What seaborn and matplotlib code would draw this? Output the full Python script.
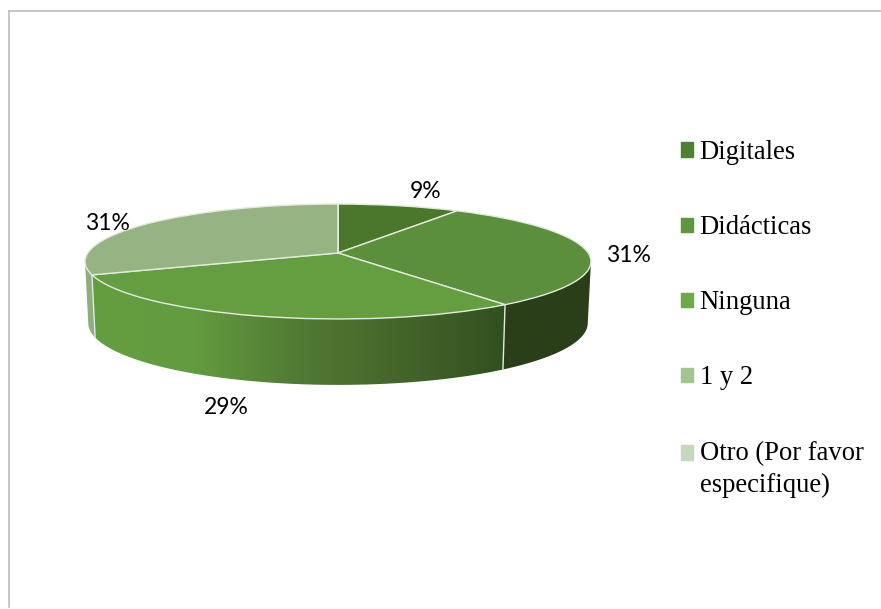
import numpy as np
import matplotlib
matplotlib.use("Agg")
import matplotlib.pyplot as plt
import matplotlib.patches as mpatches
from matplotlib.colors import LinearSegmentedColormap
from matplotlib.transforms import Transform
import seaborn as sns

# Data
categories = ["Digitales", "Didácticas", "Ninguna", "1 y 2", "Otro (Por favor\nespecifique)"]
values = [9, 31, 29, 31, 0]

top_colors = ["#4a772c", "#5b8f3b", "#659e41", "#96b483", "#c3d8bc"]
legend_colors = ["#4f7f31", "#5f9741", "#6cab45", "#a2c58f", "#c3d8bc"]
label_xy = [(426, 192), (628, 256), (226, 408), (107, 224)]

sns.set_theme(style="white")


# Perspective view of the unit pie, gives pixel positions
class Tilt(Transform):
    input_dims = 2
    output_dims = 2

    def __init__(self, cy, a, b, k=0.148, cx=338):
        super().__init__()
        self.cx, self.cy, self.a, self.b, self.k = cx, cy, a, b, k

    def transform_non_affine(self, xy):
        xy = np.asarray(xy, dtype=float)
        d = 1 + self.k * xy[:, 1]
        return np.column_stack([self.cx + self.a * xy[:, 0] / d, self.cy - self.b * xy[:, 1] / d])


top_rim = Tilt(253, 250.2, 56.2)
low_rim = Tilt(314, 247, 60.4)


def rim(view, start, stop):
    ang = np.radians(np.linspace(start, stop, 60))
    return view.transform_non_affine(np.column_stack([np.sin(ang), np.cos(ang)]))


fig = plt.figure(figsize=(8.81, 6.09), dpi=100)
fig.patch.set_facecolor("white")
ax = fig.add_axes([9 / 881, 2 / 609, 1 - 9 / 881, 1 - 12.5 / 609])

wedges, _, pct_texts = ax.pie(
    values, colors=top_colors, startangle=90, counterclock=False,
    autopct=lambda p: f"{p:.0f}%" if p > 0 else "",
    wedgeprops={"edgecolor": "#e3eadd", "linewidth": 1},
)
ax.set_aspect("auto")
ax.set_xticks([])
ax.set_yticks([])
ax.set_frame_on(True)
sns.despine(ax=ax, top=False, left=False, right=True, bottom=True)
for side in ["left", "top"]:
    ax.spines[side].set_color("#bdbdbd")
    ax.spines[side].set_linewidth(1.2)

for w in wedges:
    w.set_transform(top_rim + ax.transData)
    w.set_zorder(5)

for t, xy in zip(pct_texts, label_xy):
    t.set_position(xy)
    t.set(ha="center", va="center", family="Lato", fontsize=16.5, color="black", zorder=6)

# Side wall: only the part of the rim that faces the viewer
edges = np.concatenate([[0], np.cumsum(values)]) * 360 / sum(values)
vis_from, vis_to = 98.5, 261.5
wall_shades = {
    1: ["#2a3f19", "#2a3f19"],
    2: ["#659e41", "#639b40", "#517a33", "#44652a", "#32501f"],
    3: ["#8fae7c", "#8fae7c"],
}
for i, shades in wall_shades.items():
    start, stop = max(edges[i], vis_from), min(edges[i + 1], vis_to)
    upper, lower = rim(top_rim, start, stop), rim(low_rim, start, stop)
    poly = np.vstack([upper, lower[::-1]])
    cmap = LinearSegmentedColormap.from_list("wall", shades)
    x0, x1 = poly[:, 0].min(), poly[:, 0].max()
    # the shading runs left to right, from light into dark
    img = ax.imshow(np.linspace(0, 1, 256)[None, :], cmap=cmap, aspect="auto", zorder=2,
                    extent=(x0, x1, poly[:, 1].max(), poly[:, 1].min()))
    clip = mpatches.Polygon(poly, closed=True, transform=ax.transData, facecolor="none", edgecolor="none")
    ax.add_patch(clip)
    img.set_clip_path(clip)

ax.set_xlim(9, 881)
ax.set_ylim(607, 10.5)

for e in edges[2:4]:
    a, b = rim(top_rim, e, e)[0], rim(low_rim, e, e)[0]
    ax.plot([a[0], b[0]], [a[1], b[1]], color="#e3eadd", lw=1, zorder=3)

handles = [mpatches.Patch(color=c) for c in legend_colors]
leg = ax.legend(
    handles, categories, loc="upper left", bbox_to_anchor=(0.7433, 0.823), frameon=False,
    prop={"family": "Liberation Serif", "size": 19.2},
    handlelength=0.45, handleheight=0.45, handletextpad=0.24, labelspacing=1.88,
)
leg.get_texts()[4].set_linespacing(1.36)
for t in leg.get_texts():
    t.set_color("black")
# the swatch of the two-line entry sits next to its first line
last = leg.legend_handles[4]
last.set_y(last.get_y() + 12)

fig.savefig("out.png", dpi=100)
